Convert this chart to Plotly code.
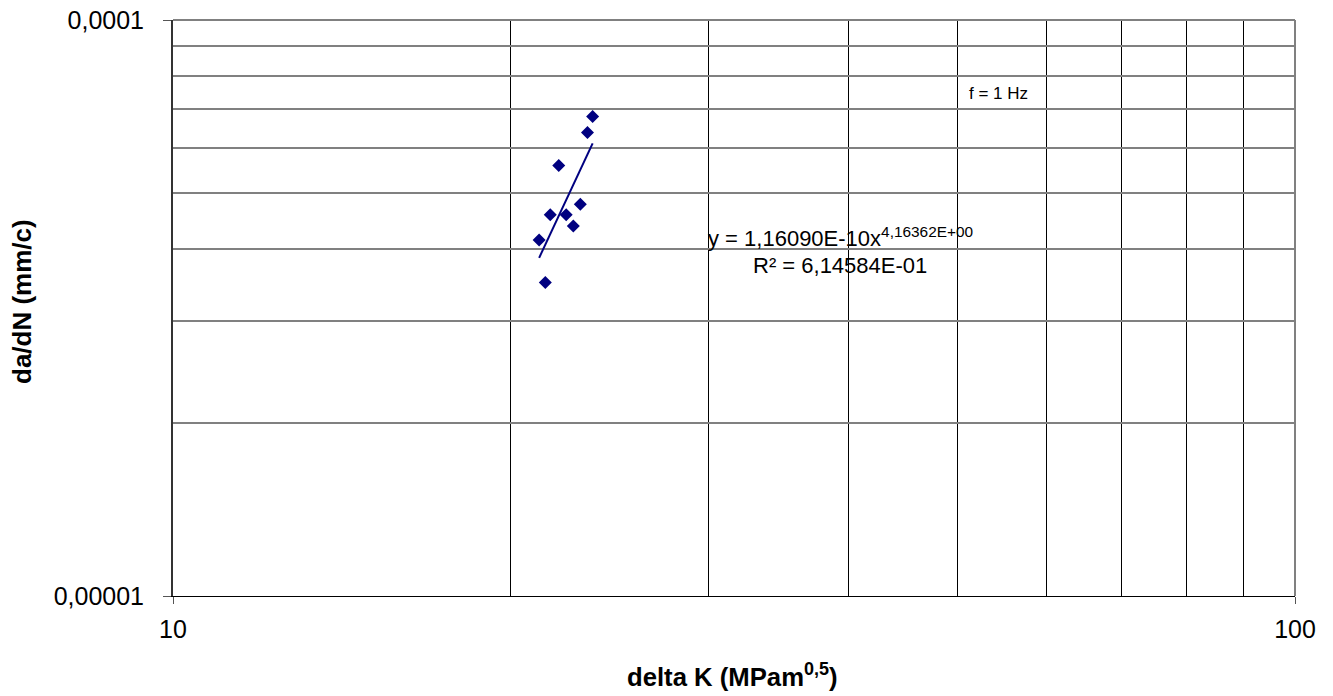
import plotly.graph_objects as go
import numpy as np

# Data
delta_k = [23.66, 23.41, 22.07, 23.07, 21.69, 22.41, 22.74, 21.20, 21.47]
dadn = [6.80e-5, 6.38e-5, 5.59e-5, 4.79e-5, 4.59e-5, 4.59e-5, 4.39e-5, 4.15e-5, 3.50e-5]

# Power-law trendline coefficients (from chart label)
coef_a = 1.16090e-10
coef_b = 4.16362

x_major = [10, 100]
x_major_text = ["10", "100"]
y_major = [1e-5, 1e-4]
y_major_text = ["0,00001", "0,0001"]
x_grid = [20, 30, 40, 50, 60, 70, 80, 90]
y_grid = [2e-5, 3e-5, 4e-5, 5e-5, 6e-5, 7e-5, 8e-5, 9e-5]

FONT = "Liberation Sans, Arial, sans-serif"
NAVY = "#000080"

L, R, T, B = 173, 38, 20, 100
PW, PH = 1333 - L - R, 696 - T - B

trend_x = np.array([min(delta_k), max(delta_k)])
trend_y = coef_a * trend_x ** coef_b

fig = go.Figure()
fig.add_trace(go.Scatter(x=trend_x, y=trend_y, mode="lines",
                         line=dict(color=NAVY, width=2), showlegend=False, hoverinfo="skip"))
fig.add_trace(go.Scatter(x=delta_k, y=dadn, mode="markers",
                         marker=dict(symbol="diamond", size=10, color=NAVY),
                         showlegend=False))

fig.update_layout(
    width=1333, height=696, autosize=False,
    margin=dict(l=L, r=R, t=T, b=B, autoexpand=False),
    paper_bgcolor="white", plot_bgcolor="white",
    font=dict(family=FONT, color="black"),
    xaxis=dict(type="log", range=[1, 2], tickvals=x_major, ticktext=x_major_text,
               showgrid=False, zeroline=False, showline=True, linecolor="black", linewidth=1,
               ticks="outside", ticklen=7, tickcolor="#555", tickfont=dict(size=25),
               ticklabelstandoff=4, automargin=False,
               minor=dict(tickvals=x_grid, showgrid=True, gridcolor="black", gridwidth=1, ticks="")),
    yaxis=dict(type="log", range=[-5, -4], tickvals=y_major, ticktext=y_major_text,
               showgrid=False, zeroline=False, showline=True, linecolor="#333", linewidth=2,
               ticks="outside", ticklen=8, tickcolor="#555", tickfont=dict(size=25),
               ticklabelstandoff=14, automargin=False,
               minor=dict(tickvals=y_grid, showgrid=True, gridcolor="#808080", gridwidth=2, ticks="")),
    shapes=[
        dict(type="line", xref="paper", yref="paper", x0=0, x1=1, y0=1, y1=1,
             line=dict(color="#808080", width=2)),
        dict(type="line", xref="paper", yref="paper", x0=1, x1=1, y0=0, y1=1,
             line=dict(color="#808080", width=2)),
    ],
    annotations=[
        dict(xref="paper", yref="paper", x=(732 - L) / PW, y=(596 - 675) / PH,
             text="<b>delta K (MPam<sup>0,5</sup>)</b>", showarrow=False,
             font=dict(size=25.7), xanchor="center", yanchor="middle"),
        dict(xref="paper", yref="paper", x=(22 - L) / PW, y=(596 - 302) / PH,
             text="<b>da/dN (mm/c)</b>", showarrow=False, textangle=-90,
             font=dict(size=26), xanchor="center", yanchor="middle"),
        dict(xref="paper", yref="paper", x=(840 - L) / PW, y=(596 - 237) / PH,
             text="y = 1,16090E-10x<sup>4,16362E+00</sup>", showarrow=False,
             font=dict(size=22), xanchor="center", yanchor="middle"),
        dict(xref="paper", yref="paper", x=(840 - L) / PW, y=(596 - 265) / PH,
             text="R² = 6,14584E-01", showarrow=False,
             font=dict(size=22), xanchor="center", yanchor="middle"),
        dict(xref="paper", yref="paper", x=(998 - L) / PW, y=(596 - 93) / PH,
             text="f = 1 Hz", showarrow=False,
             font=dict(size=17), xanchor="center", yanchor="middle"),
    ],
)

fig.write_html("out.html")
